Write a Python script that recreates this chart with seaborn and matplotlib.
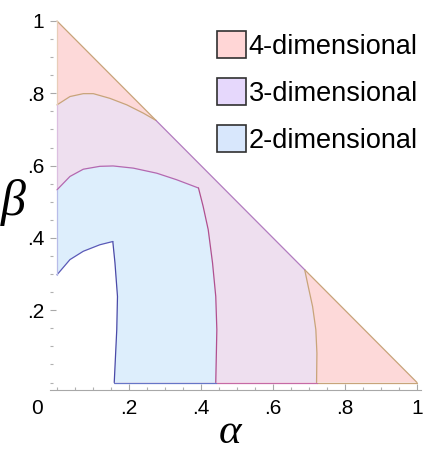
import numpy as np
import matplotlib
matplotlib.use("Agg")
import matplotlib.pyplot as plt
from matplotlib.patches import Patch
from matplotlib.ticker import FixedLocator
import seaborn as sns

# ---------------- data ----------------
# pink/lavender boundary near the top corner (ends on alpha+beta=1)
upper_alpha = [0.0, 0.036, 0.073, 0.101, 0.147, 0.194, 0.240, 0.275]
upper_beta = [0.768, 0.791, 0.799, 0.799, 0.786, 0.768, 0.745, 0.725]
# lavender/pink boundary near the bottom-right corner (starts on alpha+beta=1)
right_alpha = [0.688, 0.698, 0.710, 0.719, 0.722, 0.721]
right_beta = [0.312, 0.265, 0.210, 0.146, 0.081, 0.0]
# top of the 2-dimensional region
blue_top_alpha = [0.0, 0.036, 0.073, 0.119, 0.156, 0.212, 0.277, 0.332, 0.393]
blue_top_beta = [0.533, 0.570, 0.590, 0.598, 0.599, 0.593, 0.579, 0.561, 0.538]
# right side of the 2-dimensional region
blue_right_alpha = [0.393, 0.406, 0.420, 0.432, 0.441, 0.444, 0.441]
blue_right_beta = [0.538, 0.487, 0.423, 0.331, 0.238, 0.146, 0.0]
# excluded (white) region in the lower-left corner
hole_top_alpha = [0.0, 0.036, 0.073, 0.119, 0.155]
hole_top_beta = [0.298, 0.340, 0.363, 0.381, 0.390]
hole_right_alpha = [0.155, 0.161, 0.168, 0.166, 0.159]
hole_right_beta = [0.390, 0.331, 0.238, 0.146, 0.0]

labels = ["4-dimensional", "3-dimensional", "2-dimensional"]
fill_colors = ["#fdd9d9", "#eedfef", "#ddeefc"]
legend_colors = ["#ffd6d6", "#e6d8fc", "#d8e7fc"]
tick_values = [0.2, 0.4, 0.6, 0.8, 1.0]
tick_labels = [".2", ".4", ".6", ".8", "1"]

# ---------------- style ----------------
sns.set_style("white")
plt.rcParams["font.family"] = ["Liberation Sans", "DejaVu Sans"]
plt.rcParams["text.color"] = "black"
plt.rcParams["mathtext.fontset"] = "custom"
plt.rcParams["mathtext.it"] = "Liberation Serif:italic"
plt.rcParams["mathtext.rm"] = "Liberation Serif"

W, H = 436, 453
fig = plt.figure(figsize=(W / 100, H / 100), dpi=100)

x0, x1 = -0.02, 1.01
y0, y1 = -0.02, 1.01
# pixel mapping: alpha 0 -> 57px, 1 -> 417px ; beta 1 -> 21px, 0 -> 382.5px
px_a0, px_a1 = 57.0, 417.0
py_b0, py_b1 = 382.5, 21.0
sx = px_a1 - px_a0
sy = py_b0 - py_b1
left_px = px_a0 + x0 * sx
right_px = px_a0 + x1 * sx
bot_px = py_b0 - y0 * sy
top_px = py_b0 - y1 * sy
ax = fig.add_axes([left_px / W, 1 - bot_px / H, (right_px - left_px) / W, (bot_px - top_px) / H])
ax.set_xlim(x0, x1)
ax.set_ylim(y0, y1)

# hole boundary traversed upward from the bottom, then left along its top
hole_a = list(hole_right_alpha[::-1]) + list(hole_top_alpha[::-1])[1:]
hole_b = list(hole_right_beta[::-1]) + list(hole_top_beta[::-1])[1:]

# 4-dimensional: whole triangle minus the hole
pink_a = [0.0, 1.0] + hole_a
pink_b = [1.0, 0.0] + hole_b
# 3-dimensional
lav_a = list(upper_alpha) + list(right_alpha) + hole_a
lav_b = list(upper_beta) + list(right_beta) + hole_b
# 2-dimensional
blue_a = list(blue_top_alpha) + list(blue_right_alpha)[1:] + hole_a
blue_b = list(blue_top_beta) + list(blue_right_beta)[1:] + hole_b

for a, b, c in [(pink_a, pink_b, fill_colors[0]), (lav_a, lav_b, fill_colors[1]),
                (blue_a, blue_b, fill_colors[2])]:
    ax.fill(a, b, color=c, lw=0, zorder=1)

lw = 0.9
def edge(a, b, color, z=3):
    sns.lineplot(x=a, y=b, sort=False, estimator=None, color=color, lw=lw, ax=ax,
                 zorder=z, legend=False)

tan = "#c8a47a"
purple = "#b27cc0"
magenta = "#b0508f"
# pink edges
edge([0.0, upper_alpha[-1]], [1.0, upper_beta[-1]], tan)
edge(upper_alpha, upper_beta, tan)
edge([right_alpha[0], 1.0], [right_beta[0], 0.0], tan)
edge(right_alpha, right_beta, tan)
edge([right_alpha[-1], 1.0], [0.0, 0.0], tan)
edge([0.0, 0.0], [upper_beta[0], 1.0], "#e8cdb8")
# lavender edges
edge([upper_alpha[-1], right_alpha[0]], [upper_beta[-1], right_beta[0]], purple)
edge([blue_right_alpha[-1], right_alpha[-1]], [0.0, 0.0], "#c66aa6")
edge([0.0, 0.0], [blue_top_beta[0], upper_beta[0]], "#dcbfe0")
# blue edges
edge(blue_top_alpha, blue_top_beta, "#b468b0")
edge(blue_right_alpha, blue_right_beta, magenta)
edge([hole_right_alpha[-1], blue_right_alpha[-1]], [0.0, 0.0], "#6676c8")
edge(hole_right_alpha, hole_right_beta, "#4a4aa8")
edge(hole_top_alpha, hole_top_beta, "#5a5ab8")
edge([0.0, 0.0], [hole_top_beta[0], blue_top_beta[0]], "#b8bce8")

# ---------------- axes ----------------
for s in ["top", "right", "left"]:
    ax.spines[s].set_visible(False)
ax.spines["bottom"].set_color("#a8a8a8")
ax.spines["bottom"].set_linewidth(0.8)
ax.spines["bottom"].set_bounds(x0, 1.01)

minor_vals = [v / 20 for v in range(0, 21)]
ax.xaxis.set_major_locator(FixedLocator(tick_values))
ax.yaxis.set_major_locator(FixedLocator(tick_values))
ax.xaxis.set_minor_locator(FixedLocator(minor_vals))
ax.yaxis.set_minor_locator(FixedLocator(minor_vals))
ax.set_xticklabels(tick_labels)
ax.set_yticklabels(tick_labels)
ax.tick_params(axis="both", which="major", direction="in", length=4.5, width=0.8,
               color="#a8a8a8", labelsize=15, labelcolor="black")
ax.tick_params(axis="both", which="minor", direction="in", length=2.5, width=0.8,
               color="#b0b0b0")
ax.tick_params(axis="x", which="major", pad=7)
ax.tick_params(axis="y", which="major", pad=4)
ax.tick_params(left=True, bottom=True, which="both")
ax.text(-0.056, y0 - 7 / 72 * 100 / sy, "0", transform=ax.transData, ha="center",
        va="top", fontsize=15, color="black")

ax.grid(False)

# axis titles
fig.text(231 / W, 1 - 443 / H, r"$\alpha$", fontsize=31,
         ha="center", va="baseline", color="black")
fig.text(14 / W, 1 - 202 / H, r"$\beta$", fontsize=36,
         ha="center", va="center", color="black")

# ---------------- legend ----------------
handles = [Patch(facecolor=c, edgecolor="#303030", lw=1.2) for c in legend_colors]
leg = ax.legend(handles, labels, loc="upper left",
                bbox_to_anchor=(217 / W, 1 - 31 / H), bbox_transform=fig.transFigure,
                frameon=False, borderpad=0, borderaxespad=0, fontsize=19.5,
                handlelength=1.07, handleheight=1.15, handletextpad=0.1,
                labelspacing=0.68, labelcolor="black")

fig.savefig("out.png", dpi=100)
